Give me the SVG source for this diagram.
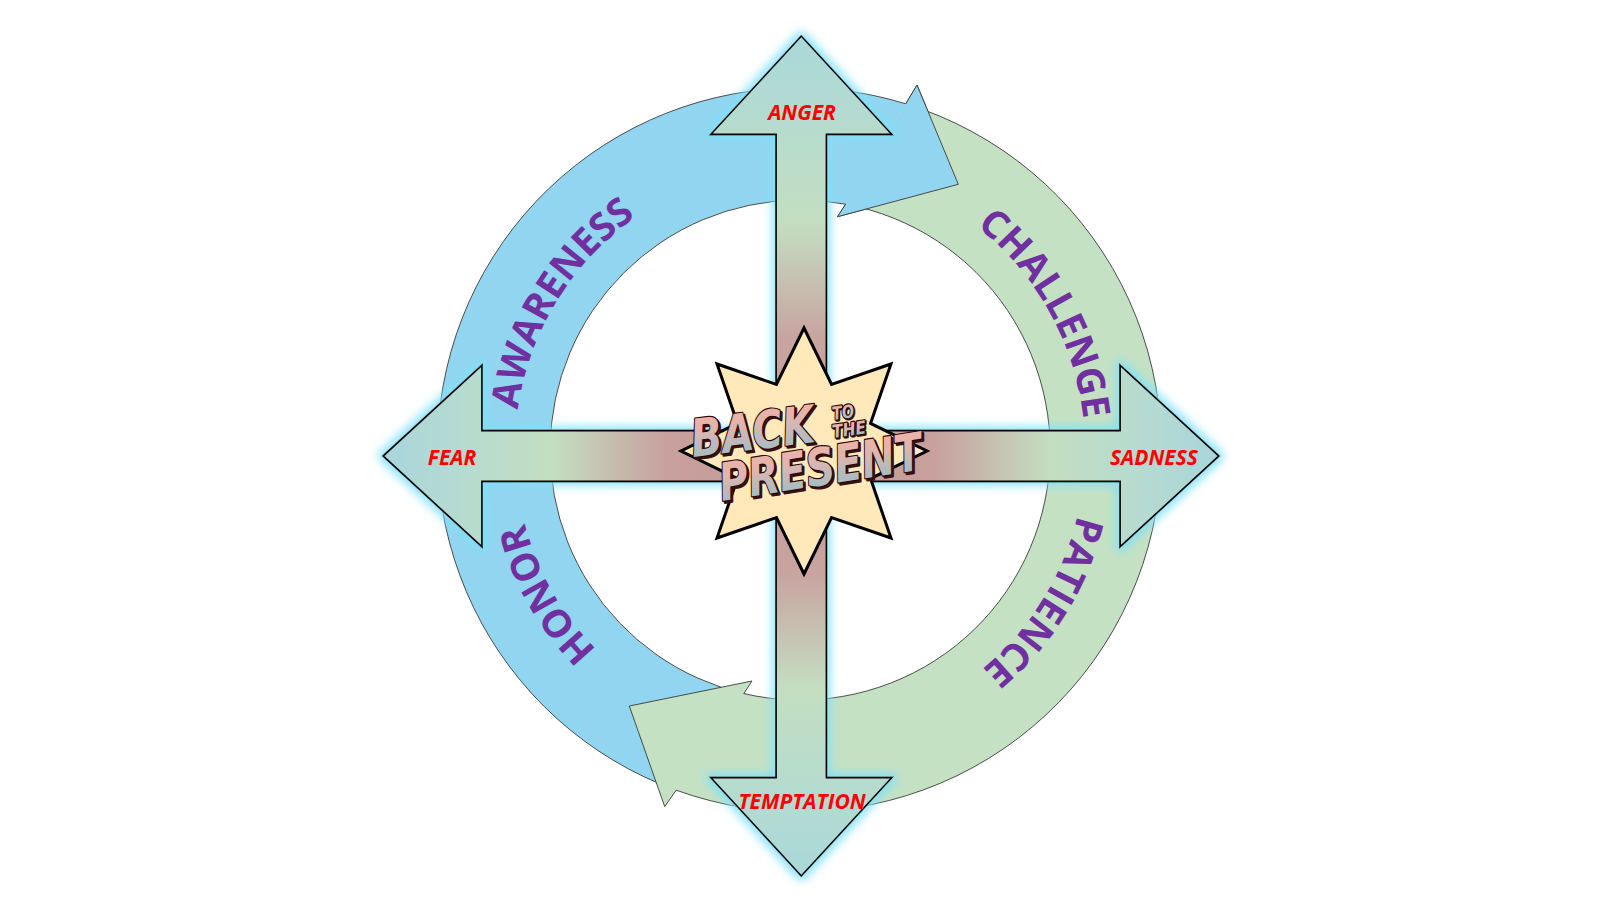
<svg xmlns="http://www.w3.org/2000/svg" width="1600" height="900" viewBox="0 0 1600 900">
<style>
.ring{stroke:#3a3a3a;stroke-width:0.9;stroke-linejoin:miter}
.blue{fill:#92D5F0}
.green{fill:#C4E1C4}
.cross{stroke:#000;stroke-width:1.8;stroke-linejoin:miter}
.lbl{font-family:"Open Sans","DejaVu Sans",sans-serif;font-weight:700;font-style:italic;font-size:21px;fill:#FF0000;text-anchor:middle}
.ringtxt{font-family:"Open Sans","DejaVu Sans",sans-serif;font-weight:700;font-size:38.5px;fill:#7030A0}
.title{font-family:"DejaVu Sans","Liberation Sans",sans-serif;font-weight:700;font-style:italic;fill:url(#txtGrad);stroke:#2a0808;stroke-width:2.4;paint-order:stroke fill;stroke-linejoin:round}
.shadow{font-family:"DejaVu Sans","Liberation Sans",sans-serif;font-weight:700;font-style:italic;fill:#3a1010;stroke:#3a1010;stroke-width:2.4;stroke-linejoin:round}
</style>
<defs>
<linearGradient id="vGrad" gradientUnits="userSpaceOnUse" x1="0" y1="36" x2="0" y2="876">
<stop offset="0" stop-color="#A9D8DA"/>
<stop offset="0.22" stop-color="#C3DFC2"/>
<stop offset="0.36" stop-color="#C8A4A0"/>
<stop offset="0.5" stop-color="#C8999A"/>
<stop offset="0.64" stop-color="#C8A4A0"/>
<stop offset="0.78" stop-color="#C3DFC2"/>
<stop offset="1" stop-color="#A9D8DA"/>
</linearGradient>
<linearGradient id="hGrad" gradientUnits="userSpaceOnUse" x1="383" y1="0" x2="1219" y2="0">
<stop offset="0" stop-color="#A9D6DC"/>
<stop offset="0.2" stop-color="#C3DFC2"/>
<stop offset="0.34" stop-color="#C8A09E"/>
<stop offset="0.5" stop-color="#C8989A"/>
<stop offset="0.66" stop-color="#C8A09E"/>
<stop offset="0.8" stop-color="#C3DFC2"/>
<stop offset="1" stop-color="#A9D6DC"/>
</linearGradient>
<linearGradient id="txtGrad" x1="0" y1="0" x2="0" y2="1">
<stop offset="0" stop-color="#F7B0A2"/>
<stop offset="0.4" stop-color="#DDB6B0"/>
<stop offset="1" stop-color="#8CC0CC"/>
</linearGradient>
<filter id="glow" x="-30%" y="-10%" width="160%" height="120%">
<feMorphology in="SourceAlpha" operator="dilate" radius="3" result="d"/>
<feGaussianBlur in="d" stdDeviation="5" result="b"/>
<feFlood flood-color="#7FE0F8" flood-opacity="0.9"/>
<feComposite in2="b" operator="in" result="g"/>
<feMerge><feMergeNode in="g"/><feMergeNode in="SourceGraphic"/></feMerge>
</filter>
<path id="pAware" d="M 611.15,663.45 A 285 285 0 0 1 904.45,184.83"/>
<path id="pChall" d="M 707.21,180.53 A 285 285 0 0 1 979.36,671.49"/>
<path id="pHonor" d="M 896.07,718.32 A 285 285 0 0 1 617.95,230.72"/>
<path id="pPat" d="M 989.96,237.54 A 285 285 0 0 1 694.16,714.62"/>
</defs>

<g id="ring-arrows">
<path id="blue-arrow" class="ring blue" d="M 676.2,790.2 A 362 362 0 0 1 905.8,103.8 L 917,85 L 958.3,184.3 L 837.5,216.7 L 845.6,204.2 A 250 250 0 0 0 743.8,693.6 Z"/>
<g id="green-arrow">
<path class="green" d="M 905.8,103.8 A 362 362 0 1 1 676.2,790.2 L 664.7,806.6 L 629.3,706 L 752,681 L 743.8,693.6 A 250 250 0 1 0 845.6,204.2 Z"/>
<path class="ring" fill="none" d="M 905.8,103.8 A 362 362 0 1 1 676.2,790.2 L 664.7,806.6 L 629.3,706 L 752,681 L 743.8,693.6 A 250 250 0 1 0 845.6,204.2"/>
</g>
<g id="blue-head">
<polygon class="blue" points="905.8,103.8 917,85 958.3,184.3 837.5,216.7 845.6,204.2"/>
<polyline class="ring" fill="none" points="905.8,103.8 917,85 958.3,184.3 837.5,216.7 845.6,204.2"/>
</g>
</g>

<g id="cross" filter="url(#glow)">
<polygon id="vertical-arrow" class="cross" fill="url(#vGrad)" points="801.3,36 892,134.5 826.5,134.5 826.5,777.5 892,777.5 801.3,876 710.6,777.5 776,777.5 776,134.5 710.6,134.5"/>
<polygon id="horizontal-arrow" class="cross" fill="url(#hGrad)" points="383,456 482,365 482,430.5 1120,430.5 1120,365 1219,456 1120,547 1120,481.5 482,481.5 482,547"/>
</g>

<g id="star">
<polygon fill="#FFE9BA" stroke="#000" stroke-width="3" stroke-linejoin="miter" points="804,328 831.55,384.48 890.97,364.03 870.52,423.45 927,451 870.52,478.55 890.97,537.97 831.55,517.52 804,574 776.45,517.52 717.03,537.97 737.48,478.55 681,451 737.48,423.45 717.03,364.03 776.45,384.48"/>
</g>

<g id="title">
<text class="shadow" font-size="52" transform="translate(695,459) rotate(-7)" textLength="124" lengthAdjust="spacingAndGlyphs">BACK</text>
<text class="title" font-size="52" transform="translate(693,457) rotate(-7)" textLength="124" lengthAdjust="spacingAndGlyphs">BACK</text>
<text class="shadow" font-size="18" stroke-width="1.6" transform="translate(834,421) rotate(-8)" textLength="22" lengthAdjust="spacingAndGlyphs">TO</text>
<text class="title" font-size="18" stroke-width="1.6" transform="translate(833,420) rotate(-8)" textLength="22" lengthAdjust="spacingAndGlyphs">TO</text>
<text class="shadow" font-size="18" stroke-width="1.6" transform="translate(834,439) rotate(-8)" textLength="34" lengthAdjust="spacingAndGlyphs">THE</text>
<text class="title" font-size="18" stroke-width="1.6" transform="translate(833,438) rotate(-8)" textLength="34" lengthAdjust="spacingAndGlyphs">THE</text>
<text class="shadow" font-size="52" transform="translate(724,503) rotate(-9)" textLength="205" lengthAdjust="spacingAndGlyphs">PRESENT</text>
<text class="title" font-size="52" transform="translate(722,501) rotate(-9)" textLength="205" lengthAdjust="spacingAndGlyphs">PRESENT</text>
</g>

<g id="arrow-labels">
<text class="lbl" x="802" y="120">ANGER</text>
<text class="lbl" x="452" y="465">FEAR</text>
<text class="lbl" x="1154" y="465">SADNESS</text>
<text class="lbl" x="802" y="809">TEMPTATION</text>
</g>

<g id="ring-labels">
<text class="ringtxt"><textPath href="#pAware" startOffset="50%" text-anchor="middle">AWARENESS</textPath></text>
<text class="ringtxt"><textPath href="#pChall" startOffset="50%" text-anchor="middle">CHALLENGE</textPath></text>
<text class="ringtxt"><textPath href="#pHonor" startOffset="50%" text-anchor="middle">HONOR</textPath></text>
<text class="ringtxt"><textPath href="#pPat" startOffset="50%" text-anchor="middle">PATIENCE</textPath></text>
</g>
</svg>
